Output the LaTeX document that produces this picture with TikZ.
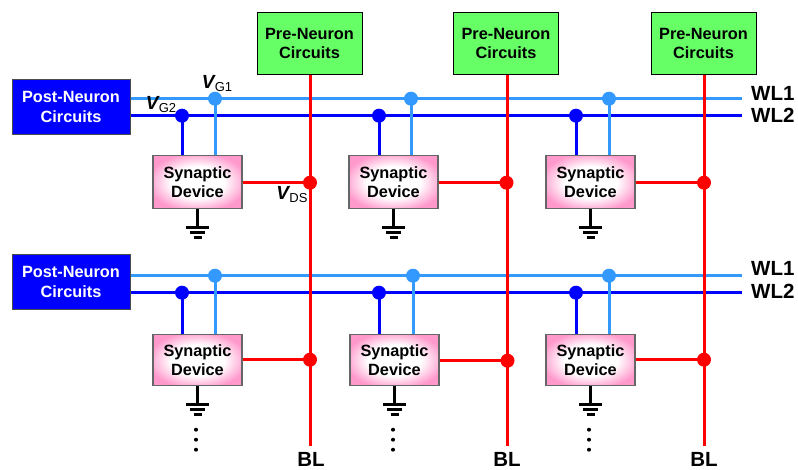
\documentclass[tikz,border=0pt]{standalone}
\usepackage{fontspec}
\setmainfont{Liberation Sans}
\definecolor{lblue}{HTML}{3399FF}
\definecolor{dblue}{HTML}{0000FF}
\definecolor{synpink}{HTML}{FF99CC}
\definecolor{pregreen}{HTML}{66FF66}
\pgfdeclareradialshading{synglow}{\pgfpoint{0bp}{0bp}}{color(0bp)=(white); color(15bp)=(white); color(28bp)=(synpink); color(100bp)=(synpink)}
\tikzset{
  prebox/.style={draw=black,line width=1pt,fill=pregreen,minimum width=105pt,minimum height=62pt,inner sep=0pt,align=center,font=\fontsize{16.3}{19.5}\selectfont\bfseries},
  postbox/.style={draw=black!70,line width=1pt,fill=dblue,text=white,minimum width=118pt,minimum height=55pt,inner sep=0pt,align=center,font=\fontsize{16.3}{19.5}\selectfont\bfseries},
  synbox/.style={draw=black!60,line width=1.1pt,shading=synglow,minimum width=89pt,minimum height=52pt,inner sep=0pt,align=center,font=\fontsize{16.3}{19.5}\selectfont\bfseries},
  dotnode/.style={circle,fill=#1,minimum size=14pt,inner sep=0pt},
  wl1/.style={draw=lblue,line width=3pt},
  wl2/.style={draw=dblue,line width=3pt},
  blw/.style={draw=red,line width=3pt},
  gnd/.style={draw=black,line width=2.6pt},
  lab/.style={font=\fontsize{20.5}{22}\selectfont\bfseries,inner sep=0pt},
  vlab/.style={inner sep=0pt,font=\fontsize{19}{20}\selectfont},
  vdot/.style={circle,fill=black,minimum size=4pt,inner sep=0pt}
}
\newcommand{\vsym}[1]{\textbf{\textit{V}}\kern-1pt{\fontsize{13}{14}\selectfont\raisebox{-3pt}{#1}}}
\begin{document}
\begin{tikzpicture}[x=1pt,y=-1pt]
\useasboundingbox (0,-0.7) rectangle (798,469.3);
% bit lines and pre-neurons
\foreach \n/\x/\px in {1/310/309.5,2/507/506,3/704/703.5}{
  \coordinate (blend\n) at (\x,445);
  \node[prebox] (pre\n) at (\px,43) {Pre-Neuron\\Circuits};
}
% post neurons, word-line ends
\node[postbox] (postA) at (71,106.5) {Post-Neuron\\Circuits};
\node[postbox] (postB) at (71,281.5) {Post-Neuron\\Circuits};
\coordinate (endA1) at (742,98);
\coordinate (endA2) at (742,115);
\coordinate (endB1) at (742,275);
\coordinate (endB2) at (742,292);
\draw[wl1] (postA.east |- endA1) -- (endA1);
\draw[wl2] (postA.east |- endA2) -- (endA2);
\draw[wl1] (postB.east |- endB1) -- (endB1);
\draw[wl2] (postB.east |- endB2) -- (endB2);
\foreach \n/\x in {1/310,2/507,3/704}{
  \draw[blw] (pre\n.south -| blend\n) -- (blend\n);
}
% devices
\foreach \id/\sx/\sy/\lx/\dx/\by/\wa/\wb/\bx/\hh in {
  A1/197.5/181.5/215/182/182/98/115/310/53,
  A2/393.5/181.5/411/379/182/98/115/506.5/53,
  A3/590.5/181.5/609/576/182/98/115/704/53,
  B1/197.5/359.5/215/182/359/275/292/310/51,
  B2/394.5/359.5/413/379/360/275/292/507.5/51,
  B3/590.5/359.5/609/576/359/275/292/704/51}{
  \node[synbox,minimum height=\hh pt] (syn\id) at (\sx,\sy) {Synaptic\\Device};
  \node[dotnode=lblue] (gone\id) at (\lx,\wa) {};
  \node[dotnode=dblue] (gtwo\id) at (\dx,\wb) {};
  \node[dotnode=red] (drain\id) at (\bx,\by) {};
  \draw[wl1] (gone\id.center) -- (gone\id.center |- syn\id.north);
  \draw[wl2] (gtwo\id.center) -- (gtwo\id.center |- syn\id.north);
  \draw[blw] (syn\id.east |- drain\id) -- (drain\id.center);
  % ground
  \coordinate (g\id) at ([yshift=-18pt]syn\id.south);
  \draw[gnd] (syn\id.south) -- (g\id);
  \draw[gnd] ([xshift=-11.5pt]g\id) -- ([xshift=11.5pt]g\id);
  \draw[gnd] ([xshift=-7.5pt,yshift=-5pt]g\id) -- ([xshift=7.5pt,yshift=-5pt]g\id);
  \draw[gnd] ([xshift=-4pt,yshift=-10pt]g\id) -- ([xshift=4pt,yshift=-10pt]g\id);
}
% continuation dots
\foreach \n/\x in {1/196,2/393,3/589}{
  \node[vdot] (da\n) at (\x,429) {};
  \node[vdot] (db\n) at (\x,439) {};
  \node[vdot] (dc\n) at (\x,449) {};
}
% labels
\foreach \n/\y/\t in {a/92.5/WL1,b/115/WL2,c/268/WL1,d/291/WL2}{
  \node[lab,anchor=west] (wll\n) at (751,\y) {\t};
}
\foreach \n/\x in {1/311,2/507,3/704}{
  \node[lab] (bll\n) at (\x,459) {BL};
}
\node[vlab] (vgone) at (217,83) {\vsym{G1}};
\node[vlab] (vgtwo) at (161,104) {\vsym{G2}};
\node[vlab] (vds) at (292,194) {\vsym{DS}};
\end{tikzpicture}
\end{document}
